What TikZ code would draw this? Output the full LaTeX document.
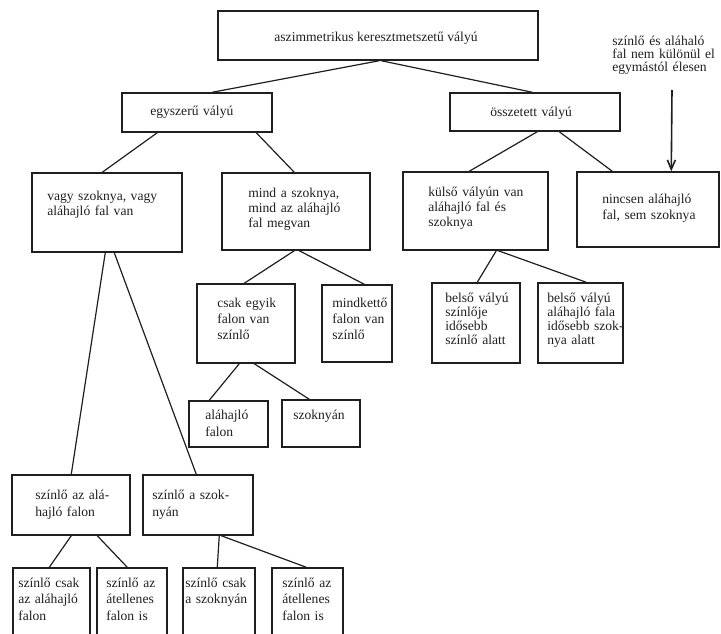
\documentclass[tikz,border=0pt]{standalone}
\usepackage{fontspec}
\setmainfont{Liberation Serif}
\usetikzlibrary{fit,calc,arrows.meta}
\definecolor{ink}{gray}{0.12}
\begin{document}
\begin{tikzpicture}[x=0.75pt,y=-0.75pt,
  box/.style={draw=ink,line width=1.1pt,inner sep=0pt},
  txt/.style={font=\fontsize{10.2}{#1}\selectfont,text=ink,align=left,inner sep=0pt,anchor=base west,text width=120pt},
  txt/.default=11.25pt,
  conn/.style={draw=ink,line width=0.9pt}]
\useasboundingbox (0,0) rectangle (721,634);
\clip (0,0) rectangle (721,634);
% boxes
\node[box,fit={(218,11)(538,60)}] (top) {};
\node[box,fit={(122,93)(272,132)}] (egy) {};
\node[box,fit={(450,93)(620,131)}] (ossz) {};
\node[box,fit={(32,173)(182,252)}] (vagy) {};
\node[box,fit={(222,173)(370,250)}] (mind) {};
\node[box,fit={(403,172)(548,250)}] (kulso) {};
\node[box,fit={(577,172)(719,247)}] (nincs) {};
\node[box,fit={(197,284)(295,363)}] (csak) {};
\node[box,fit={(322,285)(392,362)}] (mindk) {};
\node[box,fit={(189,401)(268,447)}] (alah) {};
\node[box,fit={(282,400)(360,447)}] (szok) {};
\node[box,fit={(432,283)(520,363)}] (bel1) {};
\node[box,fit={(538,283)(623,363)}] (bel2) {};
\node[box,fit={(12,475)(130,535)}] (sza) {};
\node[box,fit={(143,475)(253,535)}] (szas) {};
\node[box,fit={(13,568)(90,660)}] (b1) {};
\node[box,fit={(97,568)(167,660)}] (b2) {};
\node[box,fit={(183,568)(255,660)}] (b3) {};
\node[box,fit={(272,568)(343,660)}] (b4) {};
% texts
\node[font=\fontsize{10.2}{12}\selectfont,text=ink,inner sep=0pt,anchor=base] (top-t) at (376,42) {aszimmetrikus keresztmetszetű vályú};
\node[txt] (egy-t) at (150,116) {egyszerű vályú};
\node[txt] (ossz-t) at (490,117) {összetett vályú};
\node[txt=9.75pt] (ann) at (612,46) {színlő és aláhaló\\fal nem különül el\\egymástól élesen};
\node[txt] (vagy-t) at (47,201) {vagy szoknya, vagy\\aláhajló fal van};
\node[txt] (mind-t) at (248,198) {mind a szoknya,\\mind az aláhajló\\fal megvan};
\node[txt] (kulso-t) at (428,197) {külső vályún van\\aláhajló fal és\\szoknya};
\node[txt=12pt] (nincs-t) at (602,204) {nincsen aláhajló\\fal, sem szoknya};
\node[txt=12pt] (csak-t) at (217,308) {csak egyik\\falon van\\színlő};
\node[txt=12pt] (mindk-t) at (332,308) {mindkettő\\falon van\\színlő};
\node[txt=12.75pt] (alah-t) at (205,420) {aláhajló\\falon};
\node[txt] (szok-t) at (293,420) {szoknyán};
\node[txt=10.5pt] (bel1-t) at (445,303) {belső vályú\\színlője\\idősebb\\színlő alatt};
\node[txt=10.5pt] (bel2-t) at (547,303) {belső vályú\\aláhajló fala\\idősebb szok-\\nya alatt};
\node[txt=12.75pt] (sza-t) at (35,499) {színlő az alá-\\hajló falon};
\node[txt=12.75pt] (szas-t) at (152,499) {színlő a szok-\\nyán};
\node[txt=12.4pt] (b1-t) at (18,587) {színlő csak\\az aláhajló\\falon};
\node[txt=12.4pt] (b2-t) at (106,587) {színlő az\\átellenes\\falon is};
\node[txt=12.4pt] (b3-t) at (185,587) {színlő csak\\a szoknyán};
\node[txt=12.4pt] (b4-t) at (282,587) {színlő az\\átellenes\\falon is};
% connectors
\draw[conn] ($(top.south west)+(162,0)$) -- ($(egy.north west)+(91,0)$);
\draw[conn] ($(top.south west)+(164,0)$) -- ($(ossz.north west)+(83,0)$);
\draw[conn] ($(egy.south west)+(36,0)$) -- ($(vagy.north west)+(71,0)$);
\draw[conn] ($(egy.south west)+(135,0)$) -- ($(mind.north west)+(73,0)$);
\draw[conn] ($(ossz.south west)+(88,0)$) -- ($(kulso.north west)+(67,0)$);
\draw[conn] ($(ossz.south west)+(110,0)$) -- ($(nincs.north west)+(36,0)$);
\draw[conn] ($(vagy.south west)+(74,0)$) -- ($(sza.north west)+(60,0)$);
\draw[conn] ($(vagy.south west)+(83,0)$) -- ($(szas.north west)+(54,0)$);
\draw[conn] ($(mind.south west)+(73,0)$) -- ($(csak.north west)+(48,0)$);
\draw[conn] ($(mind.south west)+(78,0)$) -- ($(mindk.north west)+(43,0)$);
\draw[conn] ($(kulso.south west)+(94,0)$) -- ($(bel1.north west)+(46,0)$);
\draw[conn] ($(kulso.south west)+(96,0)$) -- ($(bel2.north west)+(49,0)$);
\draw[conn] ($(csak.south west)+(43,0)$) -- ($(alah.north west)+(21,0)$);
\draw[conn] ($(csak.south west)+(58,0)$) -- ($(szok.north west)+(28,0)$);
\draw[conn] ($(sza.south west)+(60,0)$) -- ($(b1.north west)+(37,0)$);
\draw[conn] ($(sza.south west)+(86,0)$) -- ($(b2.north west)+(31,0)$);
\draw[conn] ($(szas.south west)+(77,0)$) -- ($(b3.north west)+(35,0)$);
\draw[conn] ($(szas.south west)+(79,0)$) -- ($(b4.north west)+(35,0)$);
\coordinate (arr) at (672,90);
\draw[conn,line width=1.2pt,-{Straight Barb[length=7pt,width=6pt]}] (arr) -- ($(nincs.north west)+(95,0)$);
\end{tikzpicture}
\end{document}
